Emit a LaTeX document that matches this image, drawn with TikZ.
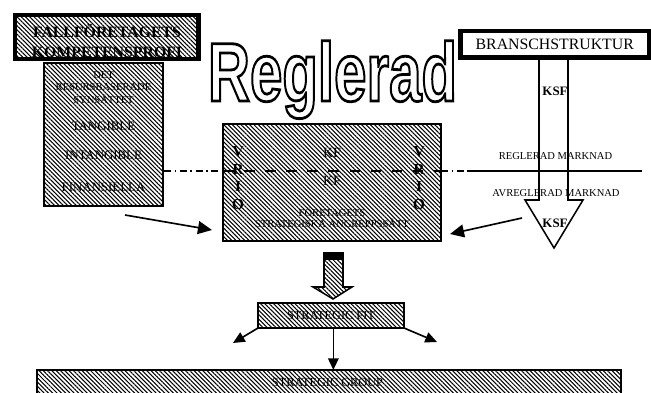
\documentclass[tikz,border=0pt]{standalone}
\usepackage{fontspec}
\usepackage{graphicx}
\setmainfont{Liberation Serif}
\newfontfamily\artfont{Liberation Sans}
\usetikzlibrary{arrows.meta, patterns.meta}

% outlined letters for the title
\newcommand{\outlinetext}[1]{\special{pdf:literal direct 2 Tr 2.4 w 0 0 0 RG 1 1 1 rg}#1\special{pdf:literal direct 0 Tr 0 0 0 rg}}

\begin{document}
\begin{tikzpicture}[
  x=0.03cm, y=-0.03cm,
  hatch/.style={pattern={Lines[angle=-45,distance=2.6pt,line width=0.9pt]}},
  box/.style={rectangle, hatch, draw=black, line width=1.4pt, inner sep=0pt, outer sep=0pt},
  frame/.style={draw=black, line width=4pt},
  txt/.style={inner sep=0pt, font=\fontsize{11}{11}\selectfont},
  small/.style={inner sep=0pt, font=\fontsize{9}{9}\selectfont},
  vrio/.style={inner sep=0pt, font=\fontsize{13}{13}\selectfont\bfseries},
  conn/.style={line width=1.4pt, -{Triangle[length=12pt,width=11pt]}},
  fitconn/.style={line width=1.4pt, -{Triangle[length=10pt,width=9pt]}},
  dashdot/.style={line width=1.3pt, dash pattern=on 6pt off 3pt on 1.5pt off 3pt}
]
\clip (0,0) rectangle (651,392);

% top left: competence profile
\node[rectangle, hatch, inner sep=0pt, minimum width=5.475cm, minimum height=1.29cm] (fall) at (106.75,37) {};
\node[anchor=base, inner sep=0pt, font=\fontsize{13.5}{13.5}\selectfont\bfseries] (fall1) at (107,37.5) {FALLFÖRETAGETS};
\node[anchor=base, inner sep=0pt, font=\fontsize{13.5}{13.5}\selectfont\bfseries] (fall2) at (107,57.5) {KOMPETENSPROFI};
\draw[frame] (fall.north west) rectangle (fall.south east);

\node[box, minimum width=3.57cm, minimum height=4.29cm] (resurs) at (103.5,134.5) {};
\node[small] (det) at (103.5,75) {DET};
\node[small] (rbs) at (103.5,87) {RESURSBASERADE};
\node[small] (syn) at (103.5,99) {SYNSÄTTET};
\node[txt] (tang) at (103.5,126) {TANGIBLE};
\node[txt] (intang) at (103.5,155) {INTANGIBLE};
\node[txt] (fin) at (103.5,187) {FINANSIELLA};

% big outlined title
\node[anchor=base, inner sep=0pt] (regl) at (332.5,101)
  {\scalebox{0.7}[1]{\artfont\bfseries\fontsize{71}{71}\selectfont\outlinetext{Reglerad}}};

% top right: industry structure
\node[rectangle, draw=black, line width=4pt, fill=white, inner sep=0pt, minimum width=5.655cm, minimum height=0.795cm,
  font=\fontsize{13.5}{13.5}\selectfont] (bransch) at (554.75,44.25) {BRANSCHSTRUKTUR};

% centre box
\node[box, minimum width=6.54cm, minimum height=3.51cm] (foretag) at (332,182.5) {};

% market split line
\coordinate (m1) at (164,171);
\coordinate (m2) at (223,171);
\coordinate (m3) at (441,171);
\coordinate (m4) at (468,171);
\coordinate (m5) at (642,171);
\draw[dashdot] (m1) -- (m2);
\draw[line width=1.3pt, dash pattern=on 9pt off 9pt] (m2) -- (m3);
\draw[dashdot] (m3) -- (m4);
\draw[line width=1.3pt] (m4) -- (m5);

\node[vrio] (v1) at (238,152) {V};
\node[vrio] (r1) at (238,170) {R};
\node[vrio] (i1) at (238,187) {I};
\node[vrio] (o1) at (238,205) {O};
\node[vrio] (v2) at (419,152) {V};
\node[vrio] (r2) at (419,170) {R};
\node[vrio] (i2) at (419,187) {I};
\node[vrio] (o2) at (419,205) {O};
\node[inner sep=0pt, font=\fontsize{12}{12}\selectfont] (kf1) at (332,153) {KF};
\node[inner sep=0pt, font=\fontsize{12}{12}\selectfont] (kf2) at (332,181) {KF};
\node[small] (fts) at (332,212) {FÖRETAGETS};
\node[small] (sta) at (332,223) {STRATEGISKA ANGREPPSSÄTT};

% KSF block arrow
\coordinate (k1) at (539,59);
\coordinate (k2) at (568,59);
\draw[line width=1.3pt] (k1) -- (539,200) -- (525,200) -- (554,248) -- (583,200) -- (568,200) -- (k2);
\node[inner sep=0pt, font=\fontsize{11}{11}\selectfont\bfseries] (ksf1) at (555,91) {KSF};
\node[inner sep=0pt, font=\fontsize{11}{11}\selectfont\bfseries] (ksf2) at (555,223) {KSF};
\node[small] (reg) at (555.5,156) {REGLERAD MARKNAD};
\node[small] (avreg) at (556,193) {AVREGLERAD MARKNAD};

% arrows into the centre box
\coordinate (aL) at (125,215);
\coordinate (aLe) at (212,230);
\coordinate (aR) at (522,218);
\coordinate (aRe) at (450,234);
\draw[conn] (aL) -- (aLe);
\draw[conn] (aR) -- (aRe);

% hatched down arrow
\draw[hatch, line width=1.3pt] (324,253) -- (343,253) -- (343,287) -- (352,287) -- (333,299) -- (313,287) -- (324,287) -- cycle;
\fill[black] (324,253) rectangle (343,260);

\node[box, minimum width=4.38cm, minimum height=0.75cm, font=\fontsize{10.5}{10.5}\selectfont] (fit) at (331,315.5) {STRATEGIC FIT};
\node[box, minimum width=17.52cm, minimum height=1.2cm] (group) at (329,390) {};
\node[inner sep=0pt, font=\fontsize{10.5}{10.5}\selectfont] (grp) at (327.5,382) {STRATEGIC GROUP};

\coordinate (fL) at (233,343);
\coordinate (fR) at (437,342);
\draw[fitconn] (fit.south west) -- (fL);
\draw[fitconn] ([xshift=2]fit.south) -- ([xshift=2]fit.south |- group.north);
\draw[fitconn] (fit.south east) -- (fR);

\end{tikzpicture}
\end{document}
